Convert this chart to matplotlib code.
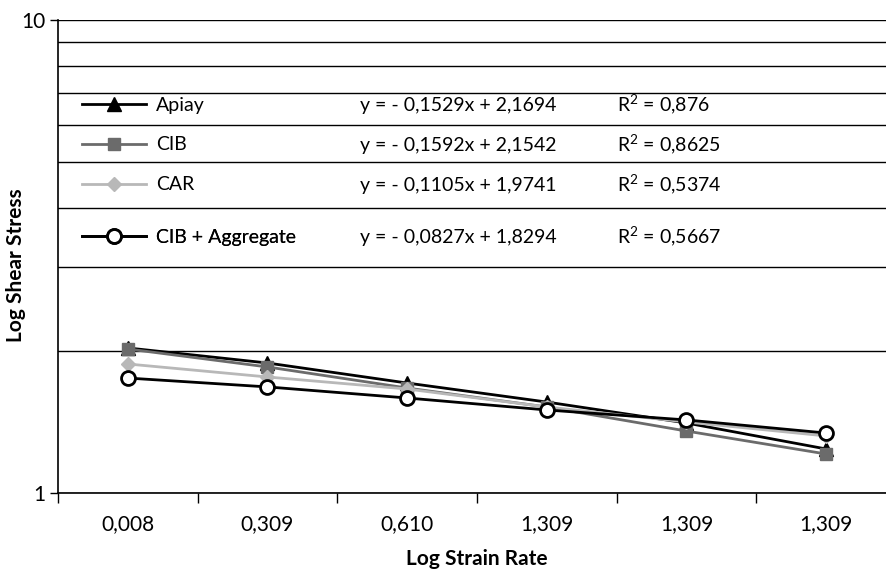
import matplotlib
matplotlib.use("Agg")
import matplotlib.pyplot as plt
from matplotlib.ticker import FixedLocator, NullFormatter

plt.rcParams['font.family'] = ['Lato', 'DejaVu Sans']
plt.rcParams['mathtext.fontset'] = 'custom'
plt.rcParams['mathtext.rm'] = 'Lato'

# data
categories = ['0,008', '0,309', '0,610', '1,309', '1,309', '1,309']
apiay = [2.026, 1.883, 1.708, 1.557, 1.406, 1.239]
cib = [2.016, 1.847, 1.667, 1.520, 1.352, 1.209]
car = [1.874, 1.759, 1.659, 1.520, 1.413, 1.320]
cib_agg = [1.750, 1.676, 1.588, 1.498, 1.427, 1.339]
names = ['Apiay', 'CIB', 'CAR', 'CIB + Aggregate']
equations = ['y = - 0,1529x + 2,1694', 'y = - 0,1592x + 2,1542',
             'y = - 0,1105x + 1,9741', 'y = - 0,0827x + 1,8294']
r2 = ['0,876', '0,8625', '0,5374', '0,5667']

W, H = 887, 569
fig = plt.figure(figsize=(W / 100, H / 100), dpi=100)
ax = fig.add_axes([58 / W, (H - 493) / H, (896 - 58) / W, (493 - 20) / H])

xs = range(len(categories))
styles = [
    dict(color='black', marker='^', markersize=10, mfc='black', mec='black'),
    dict(color='#6b6b6b', marker='s', markersize=9, mfc='#6b6b6b', mec='#6b6b6b'),
    dict(color='#b8b8b8', marker='D', markersize=7, mfc='#b8b8b8', mec='#b8b8b8'),
    dict(color='black', marker='o', markersize=10, mfc='white', mec='black', mew=2),
]
series = [apiay, cib, car, cib_agg]
handles = []
for vals, st, name in zip(series, styles, names):
    ln, = ax.plot(xs, vals, lw=2, label=name, zorder=3, **st)
    handles.append(ln)

ax.set_yscale('log')
ax.set_ylim(1, 10)
ax.set_xlim(-0.5, len(categories) - 0.5)

# y axis: labels at 1 and 10, gridlines at every integer
ax.yaxis.set_major_locator(FixedLocator([1, 10]))
ax.set_yticklabels(['1', '10'])
ax.yaxis.set_minor_locator(FixedLocator(range(2, 10)))
ax.yaxis.set_minor_formatter(NullFormatter())
ax.tick_params(axis='y', which='major', length=6, width=1, labelsize=15, pad=3)
ax.tick_params(axis='y', which='minor', length=0)
ax.grid(True, axis='y', which='both', color='black', lw=1)
ax.set_axisbelow(True)

# x axis: ticks between categories, labels centred
ax.xaxis.set_major_locator(FixedLocator([i - 0.5 for i in range(len(categories) + 1)]))
ax.xaxis.set_major_formatter(NullFormatter())
ax.xaxis.set_minor_locator(FixedLocator(list(xs)))
ax.set_xticklabels(categories, minor=True)
ax.tick_params(axis='x', which='major', length=7, width=1)
ax.tick_params(axis='x', which='minor', length=0, labelsize=15, pad=15)

for s in ['top', 'right']:
    ax.spines[s].set_visible(False)
for s in ['left', 'bottom']:
    ax.spines[s].set_linewidth(1.2)

ax.set_xlabel('Log Strain Rate', fontsize=15, fontweight='bold')
ax.xaxis.set_label_coords((477 - 58) / 838, -(549 - 493) / 473)
ax.xaxis.label.set_va('top')
ax.set_ylabel('Log Shear Stress', fontsize=15, fontweight='bold')
ax.yaxis.set_label_coords(-(58 - 26) / 838, (493 - 265) / 473)

# legend rows with trend-line equations
row_y = [105, 145, 185, 237]
for h, name, eq, r, y in zip(handles, names, equations, r2, row_y):
    yf = (493 - y) / (493 - 20)
    leg = ax.legend([h], [name], loc='center left', bbox_to_anchor=(24 / 838, yf),
                    frameon=False, fontsize=14, handlelength=3.3, handletextpad=0.5,
                    borderaxespad=0, borderpad=0)
    ax.add_artist(leg)
    ax.text((360 - 58) / 838, yf, eq, fontsize=14, va='center', ha='left',
            transform=ax.transAxes)
    ax.text((617 - 58) / 838, yf, r'R$^2$ = ' + r, fontsize=14, va='center', ha='left',
            transform=ax.transAxes)

fig.savefig('out.png', dpi=100)
